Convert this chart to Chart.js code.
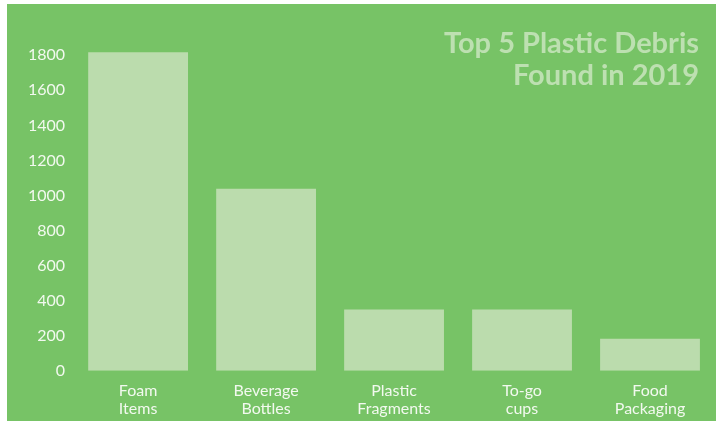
<!DOCTYPE html>
<html>
<head>
<meta charset="utf-8">
<script src="https://cdn.jsdelivr.net/npm/chart.js@4/dist/chart.umd.min.js"></script>
<style>
  html, body { margin: 0; padding: 0; background: #fff; overflow: hidden; }
  #wrap { position: absolute; left: 7px; top: 4px; width: 709px; height: 417px; background: #77c366; overflow: hidden; }
</style>
</head>
<body>
<div id="wrap"><canvas id="debrisChart" width="709" height="425"></canvas></div>
<script>
var categories = [["Foam", "Items"], ["Beverage", "Bottles"], ["Plastic", "Fragments"], ["To-go", "cups"], ["Food", "Packaging"]];
var debrisCounts = [1817, 1038, 350, 350, 183];
var yTickValues = [0, 200, 400, 600, 800, 1000, 1200, 1400, 1600, 1800];
var titleLines = ["Top 5 Plastic Debris", "Found in 2019"];

// title sits inside the plot area, so draw it ourselves
var cornerTitle = {
  id: 'cornerTitle',
  afterDraw: function (chart) {
    var ctx = chart.ctx;
    ctx.save();
    ctx.font = 'bold 29px Lato';
    ctx.fillStyle = '#bde0b1';
    ctx.textAlign = 'right';
    ctx.textBaseline = 'alphabetic';
    ctx.fillText(titleLines[0], 692, 49);
    ctx.fillText(titleLines[1], 692, 81);
    ctx.restore();
  }
};

new Chart(document.getElementById('debrisChart'), {
  type: 'bar',
  data: {
    labels: categories,
    datasets: [{
      label: "Debris",
      backgroundColor: '#bbdcad',
      data: debrisCounts,
      barPercentage: 0.78,
      categoryPercentage: 1.0
    }]
  },
  options: {
    responsive: false,
    animation: false,
    layout: { padding: { left: 12, right: 2, top: 46, bottom: 0 } },
    plugins: {
      legend: { display: false },
      tooltip: { enabled: false }
    },
    scales: {
      x: {
        grid: { display: false, drawTicks: false },
        border: { display: false },
        ticks: { color: '#f2f9ef', font: { family: 'Lato', size: 16, lineHeight: 1.13 }, padding: 11, maxRotation: 0 }
      },
      y: {
        min: 0,
        max: 1830,
        grid: { display: false, drawTicks: false },
        border: { display: false },
        afterBuildTicks: function (axis) {
          axis.ticks = yTickValues.map(function (v) { return { value: v }; });
        },
        ticks: {
          color: '#f2f9ef',
          font: { family: 'Lato', size: 16 },
          padding: 9,
          callback: function (value) { return String(value); }
        }
      }
    }
  },
  plugins: [cornerTitle]
});
</script>
</body>
</html>
